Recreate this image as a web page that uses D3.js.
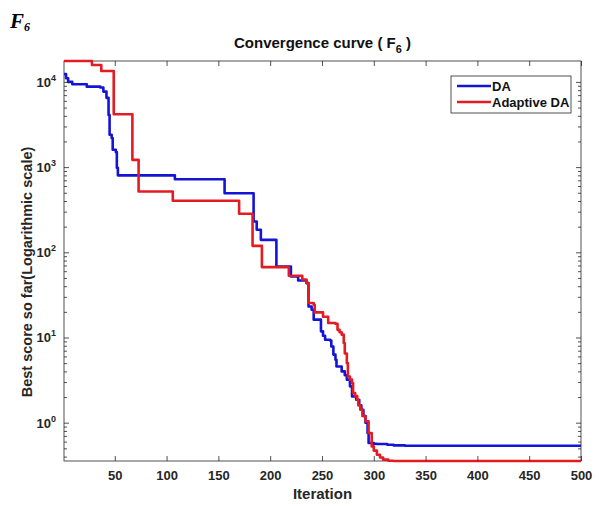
<!DOCTYPE html>
<html>
<head>
<meta charset="utf-8">
<script src="https://cdn.jsdelivr.net/npm/d3@7"></script>
<style>
  body { margin: 0; background: #fff; }
  svg { display: block; font-family: "Liberation Sans", Arial, sans-serif; }
</style>
</head>
<body>
<div id="chart"></div>
<script>
// iteration ticks and log decades
var iterTicks = [50, 100, 150, 200, 250, 300, 350, 400, 450, 500];
var decadeTicks = [1, 10, 100, 1000, 10000];
var seriesNames = ["DA", "Adaptive DA"];

// best score so far (value holds until next iteration)
var daIter = [1, 3, 5, 9, 23, 36, 39, 42, 44, 45, 47, 48, 51, 52, 53, 108, 156, 184, 187, 191, 206, 220, 227, 235, 237, 240, 242, 249, 251, 253, 258, 259, 261, 263, 264, 269, 272, 274, 277, 279, 283, 286, 288, 290, 292, 294, 295, 300, 303, 313, 319, 330, 500];
var daBest = [12400, 11050, 10000, 9400, 8800, 8600, 7700, 6500, 4100, 2400, 2200, 1600, 1500, 980, 800, 720, 494, 230, 184, 140, 68, 52, 46.7, 43.5, 23.1, 21.2, 16.2, 11.8, 10.5, 9.4, 9.2, 7.85, 6.3, 5.48, 4.57, 4.0, 3.6, 3.19, 2.67, 2.03, 1.86, 1.6, 1.42, 1.2, 1.0, 0.757, 0.578, 0.567, 0.562, 0.55, 0.542, 0.537, 0.537];

var adaIter = [1, 28, 37, 49, 67, 73, 106, 170, 183, 192, 218, 231, 235, 237, 242, 243, 251, 256, 263, 265, 267, 269, 271, 272, 274, 275, 277, 279, 280, 282, 284, 285, 287, 289, 292, 295, 298, 300, 303, 306, 309, 314, 319, 500];
var adaBest = [17600, 15800, 13450, 4180, 1217, 517, 402, 283, 119, 67, 53, 48, 43.5, 25.4, 24.2, 19.7, 17.5, 14.8, 14.5, 12.3, 11.5, 10.8, 8.6, 6.5, 5.0, 3.49, 3.2, 2.92, 2.23, 2.05, 1.86, 1.6, 1.42, 1.2, 1.035, 0.757, 0.527, 0.47, 0.421, 0.39, 0.368, 0.358, 0.355, 0.355];

var colors = ["#1414d6", "#e31b23"];
var ink = "#262626";

var W = 599, H = 506;
var pLeft = 64, pRight = 581, pTop = 61, pBottom = 461;

var svg = d3.select("#chart").append("svg")
    .attr("width", W)
    .attr("height", H);

var x = d3.scaleLinear().domain([1, 500]).range([pLeft, pRight]);
var allVals = daBest.concat(adaBest);
var y = d3.scaleLog().domain([d3.min(allVals), d3.max(allVals)]).range([pBottom, pTop]);

// minor ticks 2..9 per decade inside the domain
var minorTicks = [];
for (var k = -1; k <= 4; k++) {
    for (var m = 2; m <= 9; m++) {
        var v = m * Math.pow(10, k);
        if (v >= y.domain()[0] && v <= y.domain()[1]) minorTicks.push(v);
    }
}

// plot box
svg.append("rect")
    .attr("x", pLeft).attr("y", pTop)
    .attr("width", pRight - pLeft).attr("height", pBottom - pTop)
    .attr("fill", "#fff")
    .attr("stroke", ink).attr("stroke-width", 0.8);

// lines
var series = [
    {iter: daIter, best: daBest},
    {iter: adaIter, best: adaBest}
];
var line = d3.line()
    .x(function(d) { return x(d[0]); })
    .y(function(d) { return y(d[1]); })
    .curve(d3.curveStepAfter);

series.forEach(function(s, i) {
    svg.append("path")
        .datum(d3.zip(s.iter, s.best))
        .attr("fill", "none")
        .attr("stroke", colors[i])
        .attr("stroke-width", 2.6)
        .attr("stroke-linejoin", "round")
        .attr("d", line);
});

function styleAxis(g) {
    g.select(".domain").remove();
    g.selectAll(".tick line").attr("stroke", ink).attr("stroke-width", 0.8);
}

// x axes
svg.append("g")
    .attr("transform", "translate(0," + pBottom + ")")
    .call(d3.axisBottom(x).tickValues(iterTicks).tickSizeInner(-5).tickSizeOuter(0).tickPadding(10))
    .call(styleAxis)
    .selectAll("text")
    .attr("fill", ink)
    .style("font-size", "13px")
    .style("font-weight", "bold");

svg.append("g")
    .attr("transform", "translate(0," + pTop + ")")
    .call(d3.axisTop(x).tickValues(iterTicks).tickSizeInner(-5).tickSizeOuter(0).tickFormat(""))
    .call(styleAxis);

// y axes (major + minor)
var yLeft = svg.append("g")
    .attr("transform", "translate(" + pLeft + ",0)")
    .call(d3.axisLeft(y).tickValues(decadeTicks).tickSizeInner(-5).tickSizeOuter(0).tickFormat(""))
    .call(styleAxis);

yLeft.selectAll(".tick text").remove();
yLeft.selectAll(".tick").append("text")
    .attr("x", -8)
    .attr("y", 4.5)
    .attr("text-anchor", "end")
    .attr("fill", ink)
    .style("font-size", "13px")
    .style("font-weight", "bold")
    .each(function(d) {
        var t = d3.select(this);
        t.append("tspan").text("10");
        t.append("tspan")
            .attr("dy", -6)
            .style("font-size", "9px")
            .text(Math.round(Math.log10(d)));
    });

svg.append("g")
    .attr("transform", "translate(" + pLeft + ",0)")
    .call(d3.axisLeft(y).tickValues(minorTicks).tickSizeInner(-3).tickSizeOuter(0).tickFormat(""))
    .call(styleAxis);

svg.append("g")
    .attr("transform", "translate(" + pRight + ",0)")
    .call(d3.axisRight(y).tickValues(decadeTicks).tickSizeInner(-5).tickSizeOuter(0).tickFormat(""))
    .call(styleAxis);

svg.append("g")
    .attr("transform", "translate(" + pRight + ",0)")
    .call(d3.axisRight(y).tickValues(minorTicks).tickSizeInner(-3).tickSizeOuter(0).tickFormat(""))
    .call(styleAxis);

// titles
var title = svg.append("text")
    .attr("x", (pLeft + pRight) / 2)
    .attr("y", 48)
    .attr("text-anchor", "middle")
    .attr("fill", "#111")
    .style("font-size", "15px")
    .style("font-weight", "bold");
title.append("tspan").text("Convergence curve ( F");
title.append("tspan").attr("dy", 5).style("font-size", "11px").text("6");
title.append("tspan").attr("dy", -5).text(" )");

svg.append("text")
    .attr("x", (pLeft + pRight) / 2)
    .attr("y", 499)
    .attr("text-anchor", "middle")
    .attr("fill", ink)
    .style("font-size", "15px")
    .style("font-weight", "bold")
    .text("Iteration");

svg.append("text")
    .attr("transform", "translate(32,272) rotate(-90)")
    .attr("text-anchor", "middle")
    .attr("fill", ink)
    .style("font-size", "14.5px")
    .style("font-weight", "bold")
    .text("Best score so far(Logarithmic scale)");

// panel tag
var tag = svg.append("text")
    .attr("x", 10)
    .attr("y", 28)
    .attr("fill", "#000")
    .style("font-family", "'Liberation Serif', 'Times New Roman', serif")
    .style("font-style", "italic")
    .style("font-weight", "bold")
    .style("font-size", "21px");
tag.append("tspan").text("F");
tag.append("tspan").attr("dy", 3).style("font-size", "12px").text("6");

// legend
var legend = svg.append("g").attr("transform", "translate(451,76)");
legend.append("rect")
    .attr("width", 120).attr("height", 37)
    .attr("fill", "#fff")
    .attr("stroke", ink).attr("stroke-width", 0.8);
seriesNames.forEach(function(name, i) {
    var ly = 10 + i * 16;
    legend.append("line")
        .attr("x1", 6).attr("x2", 40)
        .attr("y1", ly).attr("y2", ly)
        .attr("stroke", colors[i]).attr("stroke-width", 2.6);
    legend.append("text")
        .attr("x", 41).attr("y", ly + 5)
        .attr("fill", "#111")
        .style("font-size", "13px")
        .style("font-weight", "bold")
        .text(name);
});
</script>
</body>
</html>
